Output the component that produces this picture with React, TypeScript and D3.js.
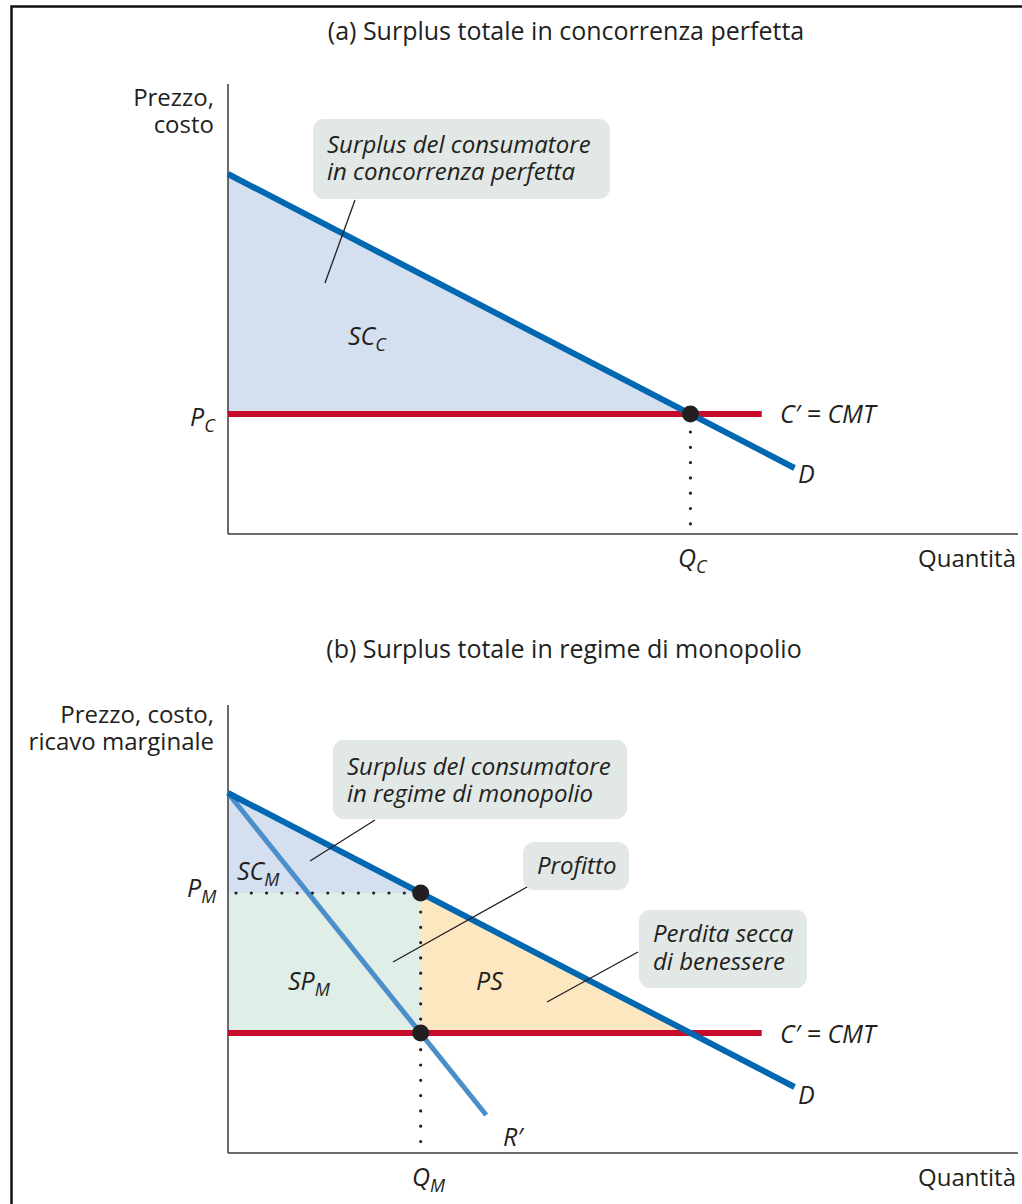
import React from "react";
import * as d3 from "d3";

// ---- Data (economic units) ----
const demandQ = [0, 14.7];
const demandP = [36, 6.6];
const mrQ = [0, 6.7];
const mrP = [36, 3.8];
const mcQ = [0, 13.85];
const mcP = [12, 12];
const QC = 12;
const PC = 12;
const QM = 5;
const PM = 26;
const xMax = 20.5;
const yMax = 45;

const titles = [
  "(a) Surplus totale in concorrenza perfetta",
  "(b) Surplus totale in regime di monopolio",
];
const yLabelsA = ["Prezzo,", "costo"];
const yLabelsB = ["Prezzo, costo,", "ricavo marginale"];
const calloutA = ["Surplus del consumatore", "in concorrenza perfetta"];
const calloutB1 = ["Surplus del consumatore", "in regime di monopolio"];
const calloutB2 = ["Profitto"];
const calloutB3 = ["Perdita secca", "di benessere"];

const FONT = "'Open Sans', 'Noto Sans', sans-serif";
const TXT = "#231f20";
const BLUE = "#0067b1";
const LBLUE = "#4b8fca";
const RED = "#c60c2a";
const SC_FILL = "#d4dff0";
const SP_FILL = "#dfeee6";
const PS_FILL = "#fde7c1";
const BOX = "#e1e8e5";
const LBL = 25;
const REG = 24;

const x = d3.scaleLinear().domain([0, xMax]).range([228, 1018]);

function Sub({ x, y, main, sub, size = LBL, anchor = "start" }: any) {
  return (
    <text x={x} y={y} fontFamily={FONT} fontStyle="italic" fontSize={size} fill={TXT} textAnchor={anchor}>
      {main}
      <tspan fontSize={size * 0.72} dy={6}>{sub}</tspan>
    </text>
  );
}

function Callout({ bx, by, bw, bh, lines, tx, ty, lh }: any) {
  return (
    <g>
      <rect x={bx} y={by} width={bw} height={bh} rx={11} fill={BOX} />
      {lines.map((l: string, i: number) => (
        <text key={i} x={tx} y={ty + i * lh} fontFamily={FONT} fontStyle="italic" fontSize={REG} fill={TXT}>
          {l}
        </text>
      ))}
    </g>
  );
}

function Leader({ x1, y1, x2, y2 }: any) {
  return <line x1={x1} y1={y1} x2={x2} y2={y2} stroke={TXT} strokeWidth={1.3} />;
}

function PanelA() {
  const y = d3.scaleLinear().domain([0, yMax]).range([534, 84]);
  const line = d3.line<[number, number]>().x((d) => x(d[0])).y((d) => y(d[1]));
  const D: [number, number][] = demandQ.map((q, i) => [q, demandP[i]]);
  const MC: [number, number][] = mcQ.map((q, i) => [q, mcP[i]]);
  const sc: [number, number][] = [[0, demandP[0]], [QC, PC], [0, PC]];
  return (
    <g>
      <text x={566} y={40} textAnchor="middle" fontFamily={FONT} fontSize={25} fill={TXT}>{titles[0]}</text>
      <path d={line(sc) + "Z"} fill={SC_FILL} />
      <line x1={x(0)} y1={y(yMax)} x2={x(0)} y2={y(0)} stroke="#3a3a3a" strokeWidth={1.5} />
      <line x1={x(0)} y1={y(0)} x2={x(xMax)} y2={y(0)} stroke="#3a3a3a" strokeWidth={1.5} />
      {yLabelsA.map((l, i) => (
        <text key={i} x={214} y={106 + i * 27} textAnchor="end" fontFamily={FONT} fontSize={REG} fill={TXT}>{l}</text>
      ))}
      <path d={line(MC) || ""} stroke={RED} strokeWidth={6} fill="none" />
      <path d={line(D) || ""} stroke={BLUE} strokeWidth={6} fill="none" />
      <line x1={x(QC)} y1={y(PC) + 18} x2={x(QC)} y2={y(0) - 8} stroke={TXT} strokeWidth={3.2} strokeLinecap="round" strokeDasharray="0 15.3" />
      <circle cx={x(QC)} cy={y(PC)} r={8.5} fill={TXT} />
      <Callout bx={313} by={119} bw={297} bh={80} lines={calloutA} tx={327} ty={153} lh={27} />
      <Leader x1={355} y1={200} x2={325} y2={283} />
      <Sub x={348} y={345} main="SC" sub="C" />
      <Sub x={190} y={426} main="P" sub="C" />
      <text x={780} y={423} fontFamily={FONT} fontStyle="italic" fontSize={LBL} fill={TXT}>C′ = CMT</text>
      <text x={798} y={483} fontFamily={FONT} fontStyle="italic" fontSize={LBL} fill={TXT}>D</text>
      <Sub x={678} y={567} main="Q" sub="C" />
      <text x={1016} y={567} textAnchor="end" fontFamily={FONT} fontSize={REG} fill={TXT}>Quantità</text>
    </g>
  );
}

function PanelB() {
  const y = d3.scaleLinear().domain([0, yMax]).range([1153, 703]);
  const line = d3.line<[number, number]>().x((d) => x(d[0])).y((d) => y(d[1]));
  const D: [number, number][] = demandQ.map((q, i) => [q, demandP[i]]);
  const MR: [number, number][] = mrQ.map((q, i) => [q, mrP[i]]);
  const MC: [number, number][] = mcQ.map((q, i) => [q, mcP[i]]);
  const sc: [number, number][] = [[0, demandP[0]], [QM, PM], [0, PM]];
  const sp: [number, number][] = [[0, PM], [QM, PM], [QM, PC], [0, PC]];
  const ps: [number, number][] = [[QM, PM], [QC, PC], [QM, PC]];
  return (
    <g>
      <text x={564} y={658} textAnchor="middle" fontFamily={FONT} fontSize={25} fill={TXT}>{titles[1]}</text>
      <path d={line(sc) + "Z"} fill={SC_FILL} />
      <path d={line(sp) + "Z"} fill={SP_FILL} />
      <path d={line(ps) + "Z"} fill={PS_FILL} />
      <line x1={x(0)} y1={705} x2={x(0)} y2={y(0)} stroke="#3a3a3a" strokeWidth={1.5} />
      <line x1={x(0)} y1={y(0)} x2={x(xMax)} y2={y(0)} stroke="#3a3a3a" strokeWidth={1.5} />
      {yLabelsB.map((l, i) => (
        <text key={i} x={214} y={723 + i * 27} textAnchor="end" fontFamily={FONT} fontSize={REG} fill={TXT}>{l}</text>
      ))}
      <path d={line(MC) || ""} stroke={RED} strokeWidth={6} fill="none" />
      <path d={line(MR) || ""} stroke={LBLUE} strokeWidth={5} fill="none" />
      <path d={line(D) || ""} stroke={BLUE} strokeWidth={6} fill="none" />
      <line x1={x(0) + 8} y1={y(PM)} x2={x(QM) - 15} y2={y(PM)} stroke={TXT} strokeWidth={3.2} strokeLinecap="round" strokeDasharray="0 15.3" />
      <line x1={x(QM)} y1={y(PM) + 19} x2={x(QM)} y2={y(0) - 8} stroke={TXT} strokeWidth={3.2} strokeLinecap="round" strokeDasharray="0 15.3" />
      <circle cx={x(QM)} cy={y(PM)} r={8.5} fill={TXT} />
      <circle cx={x(QM)} cy={y(PC)} r={8.5} fill={TXT} />
      <Callout bx={333} by={740} bw={294} bh={79} lines={calloutB1} tx={347} ty={775} lh={27} />
      <Leader x1={375} y1={820} x2={310} y2={861} />
      <Callout bx={523} by={842} bw={106} bh={48} lines={calloutB2} tx={537} ty={874} lh={27} />
      <Leader x1={527} y1={887} x2={393} y2={962} />
      <Callout bx={639} by={910} bw={168} bh={78} lines={calloutB3} tx={653} ty={942} lh={28} />
      <Leader x1={638} y1={952} x2={547} y2={1002} />
      <Sub x={237} y={880} main="SC" sub="M" />
      <Sub x={187} y={897} main="P" sub="M" />
      <Sub x={288} y={990} main="SP" sub="M" />
      <text x={476} y={990} fontFamily={FONT} fontStyle="italic" fontSize={LBL} fill={TXT}>PS</text>
      <text x={780} y={1043} fontFamily={FONT} fontStyle="italic" fontSize={LBL} fill={TXT}>C′ = CMT</text>
      <text x={798} y={1104} fontFamily={FONT} fontStyle="italic" fontSize={LBL} fill={TXT}>D</text>
      <text x={503} y={1146} fontFamily={FONT} fontStyle="italic" fontSize={LBL} fill={TXT}>R′</text>
      <Sub x={412} y={1186} main="Q" sub="M" />
      <text x={1016} y={1186} textAnchor="end" fontFamily={FONT} fontSize={REG} fill={TXT}>Quantità</text>
    </g>
  );
}

export default function App() {
  return (
    <div style={{ position: "absolute", left: 0, top: 0 }}>
      <svg width={1022} height={1204} style={{ display: "block", background: "#fff" }}>
        <path d="M1030,6.5 H11.5 V1212" fill="none" stroke="#111" strokeWidth={2.5} />
        <PanelA />
        <PanelB />
      </svg>
    </div>
  );
}
